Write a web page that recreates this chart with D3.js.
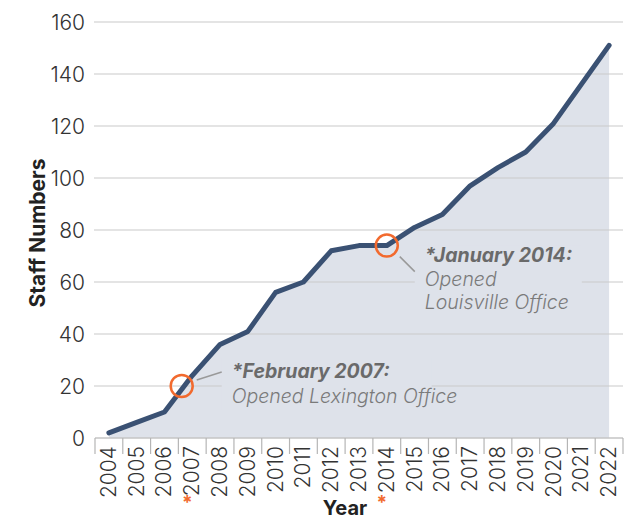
<!DOCTYPE html>
<html>
<head>
<meta charset="utf-8">
<title>Staff Numbers</title>
<script src="https://cdn.jsdelivr.net/npm/d3@7"></script>
<style>
  body { margin: 0; background: #fff; }
  text { font-family: Inter, "Open Sans", sans-serif; }
</style>
</head>
<body>
<script>

// data
var years = ["2004","2005","2006","2007","2008","2009","2010","2011","2012","2013",
             "2014","2015","2016","2017","2018","2019","2020","2021","2022"];
var staff = [2, 6, 10, 24, 36, 41, 56, 60, 72, 74, 74, 81, 86, 97, 104, 110, 121, 136, 151];
var yTicks = [0, 20, 40, 60, 80, 100, 120, 140, 160];
var starred = ["2007", "2014"];

// events marked with a circle (position given in fractional year index / staff value)
var events = [
  { at: 2.62, value: 20, title: "*February 2007:", lines: ["Opened Lexington Office"] },
  { at: 10.0, value: 74, title: "*January 2014:", lines: ["Opened", "Louisville Office"] }
];

var W = 637, H = 521;
var margin = { left: 95, right: 14, top: 22, bottom: 83 };

var svg = d3.select("body").append("svg")
  .attr("width", W).attr("height", H);

var x = d3.scaleBand()
  .domain(years)
  .range([margin.left, W - margin.right]);

var y = d3.scaleLinear()
  .domain([0, 160])
  .range([H - margin.bottom, margin.top]);

var xc = function(i){ return x(years[i]) + x.bandwidth() / 2; };

var areaFill = "#dee2ea";

// area under the line
var area = d3.area()
  .x(function(d, i){ return xc(i); })
  .y0(y(0))
  .y1(function(d){ return y(d); });

svg.append("path")
  .datum(staff)
  .attr("d", area)
  .attr("fill", areaFill);

// gridlines
svg.append("g")
  .selectAll("line")
  .data(yTicks.slice(1))
  .enter().append("line")
  .attr("x1", margin.left - 1)
  .attr("x2", W - margin.right)
  .attr("y1", function(d){ return y(d); })
  .attr("y2", function(d){ return y(d); })
  .attr("stroke", "#c9c9c9")
  .attr("stroke-width", 1.2);

// y axis labels
var yAxis = svg.append("g")
  .attr("transform", "translate(" + (margin.left - 10) + ",0)")
  .call(d3.axisLeft(y).tickValues(yTicks).tickSize(0).tickPadding(0));
yAxis.select(".domain").remove();
yAxis.selectAll("text")
  .attr("font-size", 21)
  .attr("font-family", "Inter, sans-serif")
  .attr("font-weight", 300)
  .attr("fill", "#333")
  .attr("dy", "0.36em");

// x axis: baseline + ticks at band edges
var base = y(0);
svg.append("line")
  .attr("x1", margin.left).attr("x2", W - margin.right)
  .attr("y1", base).attr("y2", base)
  .attr("stroke", "#c4c4c4").attr("stroke-width", 1.5);

var edges = years.map(function(d){ return x(d); }).concat([x.range()[1]]);
svg.append("g")
  .selectAll("line")
  .data(edges)
  .enter().append("line")
  .attr("x1", function(d){ return d; })
  .attr("x2", function(d){ return d; })
  .attr("y1", base)
  .attr("y2", base + 16)
  .attr("stroke", "#b5b5b5")
  .attr("stroke-width", 1.2);

var xl = svg.append("g");
xl.selectAll("text")
  .data(years)
  .enter().append("text")
  .attr("transform", function(d){
    return "translate(" + (x(d) + x.bandwidth() / 2 + 7) + "," + (base + 8) + ") rotate(-90)";
  })
  .attr("text-anchor", "end")
  .attr("font-size", 21)
  .attr("font-weight", 300)
  .attr("fill", "#333")
  .text(function(d){ return d; });

// orange asterisks under starred years
xl.selectAll("text.star")
  .data(starred)
  .enter().append("text")
  .attr("class", "star")
  .attr("x", function(d){ return x(d) + x.bandwidth() / 2 - 5; })
  .attr("y", base + 71)
  .attr("text-anchor", "middle")
  .attr("font-size", 19)
  .attr("font-weight", 700)
  .attr("fill", "#f26a2e")
  .text("*");

// line
var line = d3.line()
  .x(function(d, i){ return xc(i); })
  .y(function(d){ return y(d); });

// annotations
var step = x.step();
var evX = function(e){ return xc(0) + e.at * step; };

// Lexington
var e1 = events[0];
var cx1 = evX(e1), cy1 = y(e1.value);
var g1 = svg.append("g");
g1.append("rect")
  .attr("x", cx1 + 40).attr("y", cy1 - 28)
  .attr("width", 210).attr("height", 52)
  .attr("fill", areaFill);
g1.append("line")
  .attr("x1", cx1 + 15).attr("y1", cy1 - 6)
  .attr("x2", cx1 + 40).attr("y2", cy1 - 14)
  .attr("stroke", "#999").attr("stroke-width", 1.5);
g1.append("text")
  .attr("x", cx1 + 50).attr("y", cy1 - 8)
  .attr("font-size", 19.5).attr("font-weight", 700).attr("font-style", "italic")
  .attr("fill", "#6a6a6a")
  .text(e1.title);
g1.append("text")
  .attr("x", cx1 + 50).attr("y", cy1 + 17)
  .attr("font-size", 19.5).attr("font-weight", 300).attr("font-style", "italic")
  .attr("fill", "#7a7a7a")
  .text(e1.lines[0]);

// Louisville
var e2 = events[1];
var cx2 = evX(e2), cy2 = y(e2.value);
var g2 = svg.append("g");
g2.append("rect")
  .attr("x", cx2 + 28).attr("y", cy2)
  .attr("width", 167).attr("height", 70)
  .attr("fill", areaFill);
g2.append("line")
  .attr("x1", cx2 + 13).attr("y1", cy2 + 11)
  .attr("x2", cx2 + 28).attr("y2", cy2 + 26)
  .attr("stroke", "#999").attr("stroke-width", 1.5);
g2.append("text")
  .attr("x", cx2 + 38).attr("y", cy2 + 16)
  .attr("font-size", 19.5).attr("font-weight", 700).attr("font-style", "italic")
  .attr("fill", "#6a6a6a")
  .text(e2.title);
e2.lines.forEach(function(t, i){
  g2.append("text")
    .attr("x", cx2 + 38).attr("y", cy2 + 40 + i * 23)
    .attr("font-size", 19.5).attr("font-weight", 300).attr("font-style", "italic")
    .attr("fill", "#7a7a7a")
    .text(t);
});

svg.append("path")
  .datum(staff)
  .attr("d", line)
  .attr("fill", "none")
  .attr("stroke", "#3a5173")
  .attr("stroke-width", 5)
  .attr("stroke-linejoin", "round")
  .attr("stroke-linecap", "round");

// event circles
svg.append("g")
  .selectAll("circle")
  .data(events)
  .enter().append("circle")
  .attr("cx", function(e){ return evX(e); })
  .attr("cy", function(e){ return y(e.value); })
  .attr("r", 11)
  .attr("fill", "none")
  .attr("stroke", "#f26a2e")
  .attr("stroke-width", 2.5);

// axis titles
svg.append("text")
  .attr("transform", "translate(45," + ((margin.top + base) / 2 + 3) + ") rotate(-90)")
  .attr("text-anchor", "middle")
  .attr("font-size", 21).attr("font-weight", 700)
  .attr("fill", "#222")
  .text("Staff Numbers");

svg.append("text")
  .attr("x", 345)
  .attr("y", 515)
  .attr("text-anchor", "middle")
  .attr("font-size", 20).attr("font-weight", 700)
  .attr("fill", "#222")
  .text("Year");

</script>
</body>
</html>
